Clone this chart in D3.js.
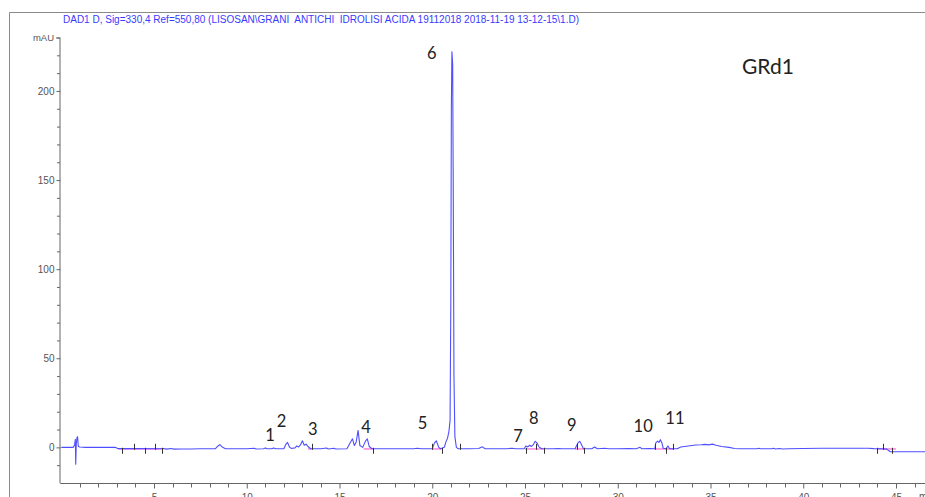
<!DOCTYPE html>
<html>
<head>
<meta charset="utf-8">
<script src="https://cdn.jsdelivr.net/npm/d3@7"></script>
<style>
  html, body { margin: 0; padding: 0; background: #fff; }
  svg { display: block; }
</style>
</head>
<body>
<svg id="chart" width="925" height="497"></svg>
<script>
// ─── Data ────────────────────────────────────────────────────────────────────
const title = 'DAD1 D, Sig=330,4 Ref=550,80 (LISOSAN\\GRANI  ANTICHI  IDROLISI ACIDA 19112018 2018-11-19 13-12-15\\1.D)';
const sampleName = 'GRd1';

// retention time (min) / signal (mAU)
const traceTime = [
  0, 0.65, 0.72, 0.76, 0.78, 0.81, 0.85, 0.88, 0.92, 1.0, 1.3, 2.9, 3.05, 4.0, 5.3, 5.5, 5.7, 5.9, 6.1, 6.5,
  7.0, 7.5, 8.3, 8.45, 8.55, 8.7, 8.85, 10.0, 10.4, 10.5, 10.9, 11.0, 11.1, 11.35, 11.45, 11.55, 12.0, 12.1, 12.2, 12.3,
  12.4, 12.6, 12.7, 12.8, 12.9, 13.0, 13.1, 13.2, 13.3, 13.45, 14.0, 14.3, 14.4, 14.7, 14.8, 15.4, 15.6, 15.7, 15.8, 15.9,
  16.0, 16.1, 16.25, 16.4, 16.5, 16.6, 16.75, 19.0, 19.2, 19.4, 20.0, 20.12, 20.22, 20.35, 20.45, 20.65, 20.75, 20.82, 20.9, 20.96,
  21.0, 21.03, 21.06, 21.1, 21.13, 21.17, 21.22, 21.3, 21.4, 22.0, 22.5, 22.7, 22.85, 24.0, 24.3, 24.5, 24.95, 25.05, 25.15, 25.25,
  25.35, 25.45, 25.55, 25.65, 25.75, 25.9, 26.5, 26.8, 27.0, 27.7, 27.85, 27.95, 28.05, 28.15, 28.6, 28.75, 28.9, 29.3, 29.5, 30.0,
  30.6, 31.0, 31.2, 31.3, 31.7, 32.0, 32.05, 32.15, 32.22, 32.3, 32.38, 32.45, 32.6, 32.7, 32.8, 33.2, 33.4, 33.8, 34.2, 34.5,
  34.7, 34.9, 35.1, 35.3, 35.6, 36.0, 36.3, 36.6, 37.5, 37.6, 37.7, 38.3, 38.4, 38.5, 38.7, 38.9, 39.2, 40.0, 41.0, 42.0,
  43.5, 43.8, 44.2, 44.5, 44.6, 44.7, 47.0
];
const traceMAU = [
  0, 0, 1.5, 4.5, -9.5, 2, 5.5, 6, 0.5, 0.2, 0, 0, -0.7, -0.7, -0.8, -0.6, -1, -0.6, -1, -0.9,
  -0.9, -0.8, -0.8, 0.8, 1.5, 0, -0.8, -0.8, -0.5, -0.9, -0.8, -0.3, -0.8, -0.8, -0.3, -0.8, -0.8, 1.5, 2.8, 0.2,
  -0.6, -0.3, 0.8, 0.2, 1.5, 3.7, 1.2, 1.8, 0.5, -0.8, -0.8, -0.4, -0.9, -0.5, -0.9, -0.8, 3, 4.8, 1, 3,
  9.5, 1, 0, 3.5, 4.8, 0.5, -0.8, -0.8, -0.5, -0.8, -0.8, 2.5, 3.7, 0, -0.8, 0, 3.5, 5, 9, 15,
  80, 190, 222, 215, 150, 40, 6, 0, -0.8, -0.8, -0.6, 0.3, -0.8, -0.8, -0.5, -0.8, -0.8, 0.8, 0.3, 1.2,
  0.5, 1.6, 3.4, 2.5, 0.3, -0.8, -0.8, -0.6, -0.8, -0.8, 2.5, 3.4, 1.5, -0.8, -0.8, 0.2, -0.8, -0.5, -0.8, -0.8,
  -0.6, -0.8, 0, -0.8, -0.6, -0.8, 2.5, 3.5, 2.8, 4.3, 2.5, -0.5, -0.8, 0.8, -0.8, -0.8, 0.2, 0.8, 1.3, 1.5,
  1.7, 1.4, 1.8, 1.2, 0.5, 0, -0.6, -0.8, -0.8, -0.5, -0.8, -0.8, -0.5, -0.9, -0.6, -0.9, -0.8, -0.6, -0.5, -0.5,
  -0.5, -0.7, -0.8, -1, -1.8, -2.5, -2.5
];

// integration baselines (start, end in min) and integration event marks (min)
const baseStart = [3.1, 13.3, 16.3, 20.0, 25.0, 27.7, 32.0, 44.0];
const baseEnd   = [5.4, 13.5, 16.8, 20.5, 26.0, 28.2, 33.0, 45.0];
const eventMarks = [3.27, 3.92, 4.51, 5.05, 5.45, 13.5, 16.8, 20.0, 20.55, 21.5, 25.05, 25.6, 26.0, 27.8, 28.2, 32.0, 32.6, 33.0, 44.0, 44.3, 44.8];

// peak annotations: label, time (min), mAU at label baseline
const peakLabels = ['1', '2', '3', '4', '5', '6', '7', '8', '9', '10', '11'];
const peakLabelT = [11.25, 11.88, 13.56, 16.43, 19.48, 19.97, 24.62, 25.48, 27.52, 31.37, 33.08];
const peakLabelV = [3.7, 11.5, 7.2, 8, 10.5, 218, 3, 13, 9, 8.5, 13];

const yMajor = [0, 50, 100, 150, 200];
const xMajor = [5, 10, 15, 20, 25, 30, 35, 40, 45];

// ─── Layout ──────────────────────────────────────────────────────────────────
const C = {
  trace: '#4f4fff',
  header: '#3a3aff',
  axis: '#666',
  frame: '#8a8a8a',
  tickText: '#555',
  baseline: '#ff44cc',
  label: '#222',
  font: 'Liberation Sans, Arial, sans-serif',
  labelFont: 'Lato, Open Sans, sans-serif',
};

const svg = d3.select('#chart');
const x = d3.scaleLinear().domain([0, 46.8]).range([61.25, 929.4]);
const y = d3.scaleLinear().domain([-20, 230]).range([483, 37.5]);

// outer frame (left + top)
svg.append('line').attr('x1', 9.5).attr('x2', 9.5).attr('y1', 12.5).attr('y2', 497)
  .attr('stroke', C.frame).attr('stroke-width', 1);
svg.append('line').attr('x1', 9.5).attr('x2', 925).attr('y1', 12.5).attr('y2', 12.5)
  .attr('stroke', C.frame).attr('stroke-width', 1);

// header
svg.append('text').attr('x', 63).attr('y', 23)
  .attr('font-family', C.font).attr('font-size', 10).attr('fill', C.header)
  .attr('xml:space', 'preserve').style('white-space', 'pre')
  .text(title);

// y axis
const yAxis = d3.axisLeft(y).tickValues(yMajor).tickSize(4).tickPadding(2).tickFormat(d3.format('d'));
const gy = svg.append('g').attr('transform', 'translate(60.5,0)').call(yAxis);
gy.select('.domain').attr('stroke', C.axis).attr('d', `M-0.5,${y(-20)}V${y(230)}`);
gy.selectAll('.tick line').attr('stroke', C.axis);
gy.selectAll('.tick text').attr('fill', C.tickText).attr('font-family', C.font).attr('font-size', 10);
const yMinor = d3.range(-10, 231, 10).filter(v => v % 50 !== 0);
svg.append('g').selectAll('line').data(yMinor).enter().append('line')
  .attr('x1', 57).attr('x2', 60).attr('y1', d => y(d) + 0.5).attr('y2', d => y(d) + 0.5)
  .attr('stroke', C.axis);
svg.append('line').attr('x1', 56).attr('x2', 60).attr('y1', y(230) + 0.5).attr('y2', y(230) + 0.5)
  .attr('stroke', C.axis);
svg.append('text').attr('x', 54).attr('y', y(230) + 3.5).attr('text-anchor', 'end')
  .attr('font-family', C.font).attr('font-size', 9.5).attr('fill', C.tickText).text('mAU');

// x axis
const xAxis = d3.axisBottom(x).tickValues(xMajor).tickSize(5).tickPadding(5).tickFormat(d3.format('d'));
const gx = svg.append('g').attr('transform', `translate(0,${y(-20) + 0.5})`).call(xAxis);
gx.select('.domain').attr('stroke', C.axis).attr('d', `M${x(0) - 1},0H925`);
gx.selectAll('.tick line').attr('stroke', C.axis);
gx.selectAll('.tick text').attr('fill', C.tickText).attr('font-family', C.font).attr('font-size', 10);
const xMinor = d3.range(1, 47, 1).filter(v => v % 5 !== 0);
gx.append('g').selectAll('line').data(xMinor).enter().append('line')
  .attr('x1', d => Math.round(x(d)) + 0.5).attr('x2', d => Math.round(x(d)) + 0.5)
  .attr('y1', 0).attr('y2', 4).attr('stroke', C.axis);
svg.append('text').attr('x', 919).attr('y', y(-20) + 17)
  .attr('font-family', C.font).attr('font-size', 10).attr('fill', C.tickText).text('min');

// integration baselines
svg.append('g').selectAll('line').data(baseStart).enter().append('line')
  .attr('x1', d => x(d)).attr('x2', (d, i) => x(baseEnd[i]))
  .attr('y1', y(-0.9)).attr('y2', y(-0.9))
  .attr('stroke', C.baseline).attr('stroke-width', 1);

// chromatogram trace
const line = d3.line().x(d => x(d[0])).y(d => y(d[1]));
svg.append('path').datum(traceTime.map((t, i) => [t, traceMAU[i]]))
  .attr('d', line).attr('fill', 'none')
  .attr('stroke', C.trace).attr('stroke-width', 1.1).attr('stroke-linejoin', 'round');

// integration event marks
svg.append('g').selectAll('line').data(eventMarks).enter().append('line')
  .attr('x1', d => Math.round(x(d)) + 0.5).attr('x2', d => Math.round(x(d)) + 0.5)
  .attr('y1', (d, i) => y(-0.8) - (i % 2 ? 5 : 1)).attr('y2', (d, i) => y(-0.8) + (i % 2 ? 1 : 5))
  .attr('stroke', '#333').attr('stroke-width', 1);

// peak labels
svg.append('g').selectAll('text').data(peakLabels).enter().append('text')
  .attr('x', (d, i) => x(peakLabelT[i])).attr('y', (d, i) => y(peakLabelV[i]))
  .attr('text-anchor', 'middle')
  .attr('font-family', C.labelFont).attr('font-size', 16.5).attr('fill', C.label)
  .text(d => d);

svg.append('text').attr('x', 742).attr('y', 73.5)
  .attr('font-family', C.labelFont).attr('font-size', 21).attr('fill', C.label)
  .text(sampleName);
</script>
</body>
</html>
